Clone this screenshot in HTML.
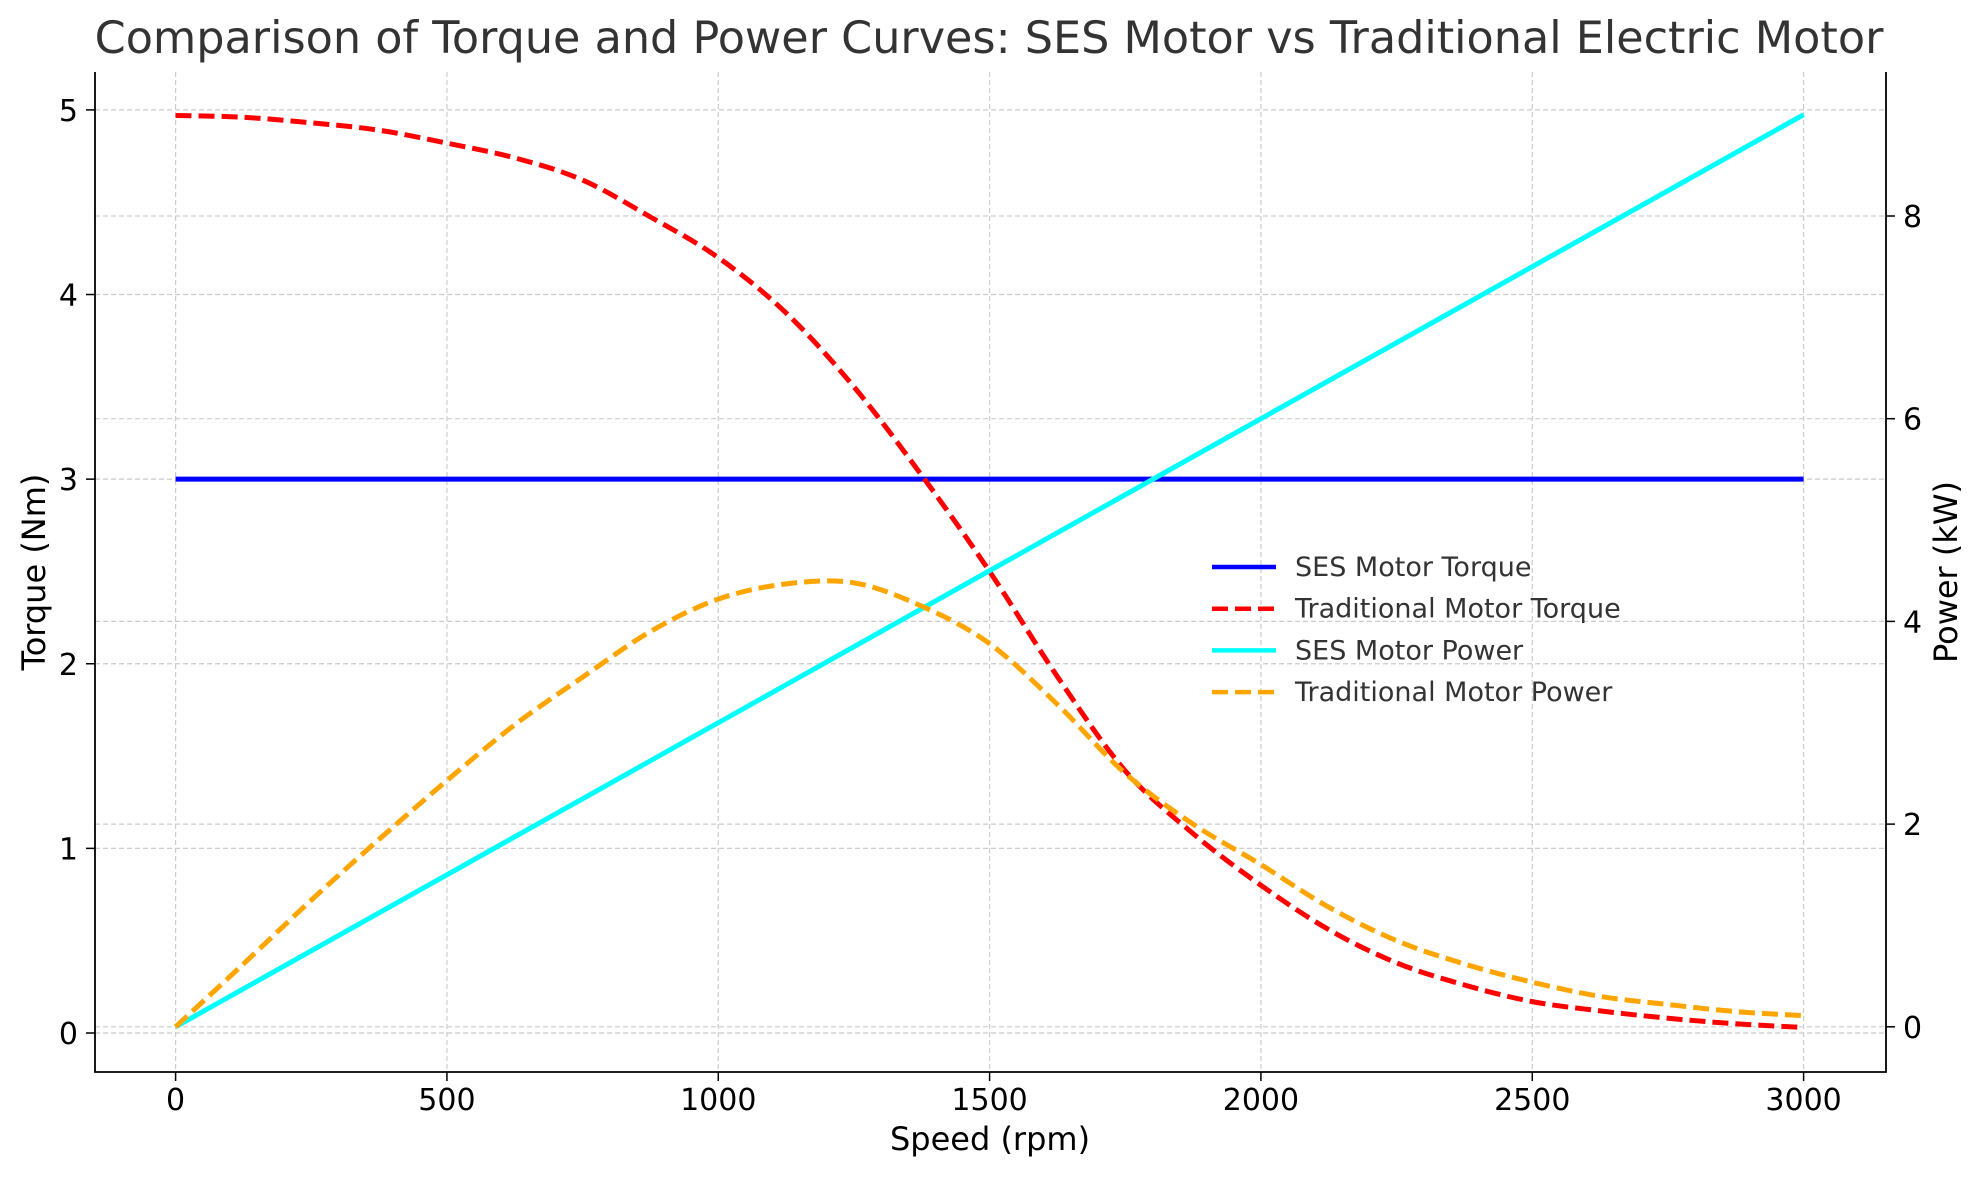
<!DOCTYPE html>
<html><head><meta charset="utf-8"><style>
body{margin:0;background:#fff}
svg{display:block;font-family:"DejaVu Sans","Liberation Sans",sans-serif}
</style></head><body>
<svg id="chart" width="1980" height="1180" viewBox="0 0 1980 1180">
<text x="989" y="53" font-size="44.5" text-anchor="middle" fill="#333">Comparison of Torque and Power Curves: SES Motor vs Traditional Electric Motor</text>
<g id="grid"></g><g id="series"></g><g id="axes"></g><g id="legend"></g>
</svg>
<script>
const speeds=[0,125,250,375,500,625,750,875,1000,1125,1250,1375,1500,1625,1750,1875,2000,2125,2250,2375,2500,2625,2750,2875,3000];
const sesTorque=[3,3,3,3,3,3,3,3,3,3,3,3,3,3,3,3,3,3,3,3,3,3,3,3,3];
const tradTorque=[4.97,4.96,4.93,4.89,4.82,4.74,4.62,4.42,4.2,3.9,3.5,3.02,2.5,1.93,1.42,1.08,0.8,0.56,0.38,0.26,0.17,0.12,0.08,0.05,0.03];
const sesPower=[0,0.375,0.75,1.125,1.5,1.875,2.25,2.625,3,3.375,3.75,4.125,4.5,4.875,5.25,5.625,6,6.375,6.75,7.125,7.5,7.875,8.25,8.625,9];
const tradPower=[0,0.62,1.25,1.85,2.43,2.98,3.45,3.9,4.22,4.37,4.38,4.15,3.78,3.18,2.5,2.0,1.6,1.18,0.85,0.62,0.44,0.3,0.22,0.15,0.11];
const xTicks=[0,500,1000,1500,2000,2500,3000];
const yTicks=[0,1,2,3,4,5];
const y2Ticks=[0,2,4,6,8];
const NS="http://www.w3.org/2000/svg";
const X=v=>175.6+v*(1803.6-175.6)/3000;
const Y=v=>1033-v*(1033-109.9)/5;
const Y2=v=>1026.8-v*(1026.8-216)/8;
const L=95,R=1886,T=72,B=1072;
function mk(tag,attrs,parent){const e=document.createElementNS(NS,tag);for(const k in attrs)e.setAttribute(k,attrs[k]);document.getElementById(parent).appendChild(e);return e;}
xTicks.forEach(t=>{const e=mk('line',{x1:X(t),x2:X(t),y1:T,y2:B,stroke:'#ccc','stroke-dasharray':'5,3','stroke-width':1.2},'grid');

});
yTicks.forEach(t=>{const e=mk('line',{x1:L,x2:R,y1:Y(t),y2:Y(t),stroke:'#ccc','stroke-dasharray':'5,3','stroke-width':1.2},'grid');

});
y2Ticks.forEach(t=>{const e=mk('line',{x1:L,x2:R,y1:Y2(t),y2:Y2(t),stroke:'#ccc','stroke-dasharray':'5,3','stroke-width':1.2},'grid');

});
function smoothPath(pts){let d=`M${pts[0][0]},${pts[0][1]}`;
for(let i=0;i<pts.length-1;i++){const p0=pts[i-1]||pts[i],p1=pts[i],p2=pts[i+1],p3=pts[i+2]||p2;
const c1=[p1[0]+(p2[0]-p0[0])/6,p1[1]+(p2[1]-p0[1])/6],c2=[p2[0]-(p3[0]-p1[0])/6,p2[1]-(p3[1]-p1[1])/6];
d+=`C${c1[0]},${c1[1]} ${c2[0]},${c2[1]} ${p2[0]},${p2[1]}`;}return d;}
function line(vals,yf,color,dash,name){const p=mk('path',{d:smoothPath(speeds.map((s,i)=>[X(s),yf(vals[i])])),fill:'none',stroke:color,'stroke-width':5,'stroke-dasharray':dash,'stroke-linejoin':'round'},'series');

}
line(sesTorque,Y,'#0000ff','none','ses-torque-line');
line(tradTorque,Y,'#ff0000','16,7','traditional-torque-line');
line(sesPower,Y2,'#00ffff','none','ses-power-line');
line(tradPower,Y2,'#ffa500','16,7','traditional-power-line');
const ax=mk('path',{d:`M${L},${T}V${B}H${R}V${T}`,fill:'none',stroke:'#000','stroke-width':1.8},'axes');


xTicks.forEach(t=>{mk('line',{x1:X(t),x2:X(t),y1:B,y2:B+9,stroke:'#000','stroke-width':1.5},'axes');
const e=mk('text',{x:X(t),y:B+38,'font-size':30,'text-anchor':'middle'},'axes');e.textContent=t;

});
yTicks.forEach(t=>{mk('line',{x1:L-9,x2:L,y1:Y(t),y2:Y(t),stroke:'#000','stroke-width':1.5},'axes');
const e=mk('text',{x:L-17,y:Y(t)+11,'font-size':30,'text-anchor':'end'},'axes');e.textContent=t;

});
y2Ticks.forEach(t=>{mk('line',{x1:R,x2:R+9,y1:Y2(t),y2:Y2(t),stroke:'#000','stroke-width':1.5},'axes');
const e=mk('text',{x:R+17,y:Y2(t)+11,'font-size':30,'text-anchor':'start'},'axes');e.textContent=t;

});
let e=mk('text',{x:990,y:1150,'font-size':32,'text-anchor':'middle'},'axes');e.textContent='Speed (rpm)';


e=mk('text',{x:0,y:0,'font-size':32,'text-anchor':'middle',transform:'translate(45,572) rotate(-90)'},'axes');e.textContent='Torque (Nm)';


e=mk('text',{x:0,y:0,'font-size':32,'text-anchor':'middle',transform:'translate(1957,572) rotate(-90)'},'axes');e.textContent='Power (kW)';


const legendLabels=['SES Motor Torque','Traditional Motor Torque','SES Motor Power','Traditional Motor Power'];
const legendColors=['#0000ff','#ff0000','#00ffff','#ffa500'];
const legendDash=['none','16,7','none','16,7'];
legendLabels.forEach((lab,i)=>{const y=567+i*41.7;
const l=mk('line',{x1:1212,x2:1276,y1:y,y2:y,stroke:legendColors[i],'stroke-width':4.5,'stroke-dasharray':legendDash[i]},'legend');


const t=mk('text',{x:1295,y:y+9,'font-size':27,fill:'#333'},'legend');t.textContent=lab;

});
</script>
</body></html>
